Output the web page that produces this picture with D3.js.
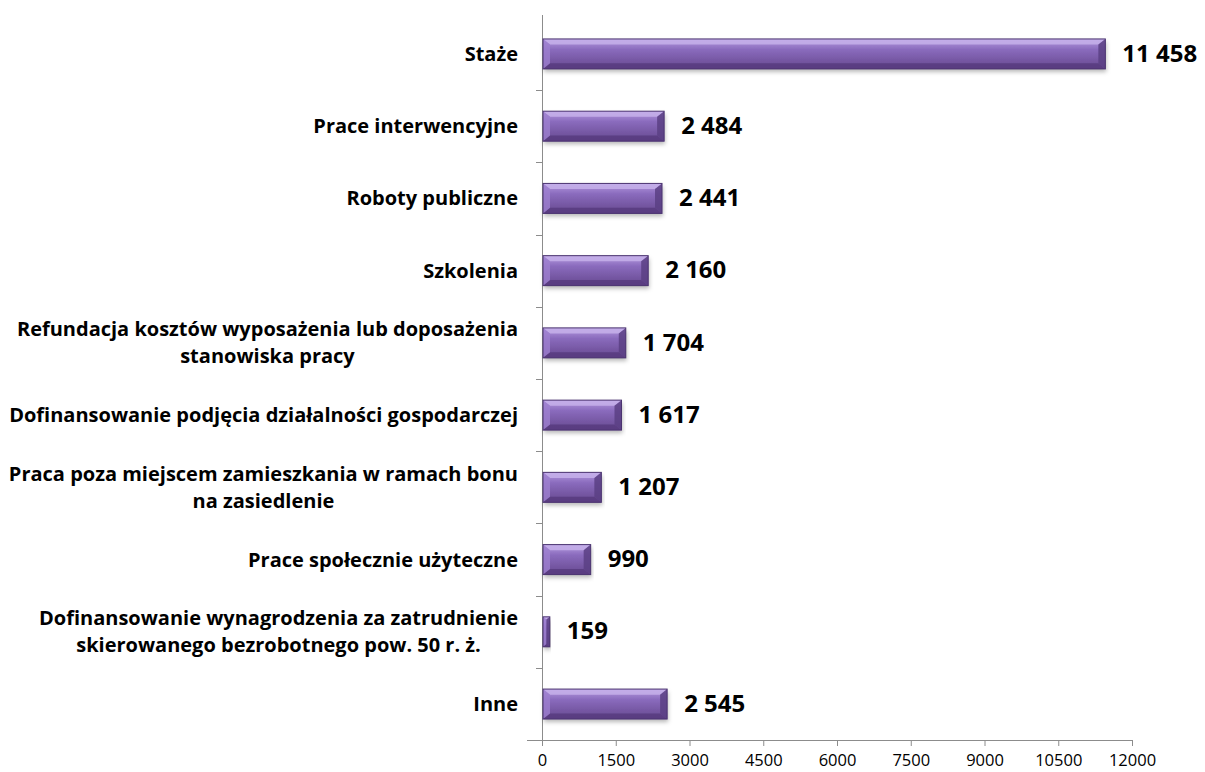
<!DOCTYPE html>
<html><head><meta charset="utf-8">
<script src="https://cdn.jsdelivr.net/npm/d3@7"></script>
<style>
html,body{margin:0;padding:0;background:#fff;}
svg{display:block;}
</style></head>
<body>
<svg id="chart" width="1205" height="772"></svg>
<script>
const categories = [
  ["Staże"],
  ["Prace interwencyjne"],
  ["Roboty publiczne"],
  ["Szkolenia"],
  ["Refundacja kosztów wyposażenia lub doposażenia", "stanowiska pracy"],
  ["Dofinansowanie podjęcia działalności gospodarczej"],
  ["Praca poza miejscem zamieszkania w ramach bonu", "na zasiedlenie"],
  ["Prace społecznie użyteczne"],
  ["Dofinansowanie wynagrodzenia za zatrudnienie", "skierowanego bezrobotnego pow. 50 r. ż."],
  ["Inne"]
];
const values = [11458, 2484, 2441, 2160, 1704, 1617, 1207, 990, 159, 2545];
const valueLabels = ["11 458", "2 484", "2 441", "2 160", "1 704", "1 617", "1 207", "990", "159", "2 545"];
const tickValues = [0, 1500, 3000, 4500, 6000, 7500, 9000, 10500, 12000];

(function () {
const svg = d3.select("#chart");
const pLeft = 542, pRight = 1132, pTop = 18, pBottom = 740;
const FONT = "'Open Sans', Lato, sans-serif";

const x = d3.scaleLinear().domain([0, 12000]).range([pLeft, pRight]);
const y = d3.scaleBand().domain(d3.range(categories.length)).range([pTop, pBottom]).paddingInner(0.585).paddingOuter(0.29);

const defs = svg.append("defs");
const g = defs.append("linearGradient").attr("id", "face").attr("x1", 0).attr("y1", 0).attr("x2", 0).attr("y2", 1);
g.append("stop").attr("offset", "0%").attr("stop-color", "#b59ae0");
g.append("stop").attr("offset", "35%").attr("stop-color", "#8a6bbd");
g.append("stop").attr("offset", "100%").attr("stop-color", "#66488f");
const f = defs.append("filter").attr("id", "sh").attr("x", "-5%").attr("y", "-30%").attr("width", "110%").attr("height", "180%");
f.append("feDropShadow").attr("dx", 1).attr("dy", 3).attr("stdDeviation", 2).attr("flood-color", "#000").attr("flood-opacity", 0.28);

// axes
const xAxis = d3.axisBottom(x).tickValues(tickValues).tickSize(6).tickSizeOuter(0).tickFormat(d3.format("d"));
const gx = svg.append("g").attr("transform", `translate(0,${pBottom})`).call(xAxis);
gx.select(".domain").attr("stroke", "#8c8c8c").attr("d", `M${pLeft - 15},0.5H${pRight}`);
gx.selectAll(".tick line").attr("stroke", "#8c8c8c");
gx.selectAll(".tick text").attr("font-family", FONT).attr("font-size", 16.5).attr("fill", "#000")
  .attr("y", 26).attr("dy", 0);

const ax = svg.append("g");
ax.append("line").attr("x1", pLeft + 0.5).attr("x2", pLeft + 0.5).attr("y1", pTop - 3).attr("y2", pBottom + 6).attr("stroke", "#8c8c8c");
ax.selectAll("line.t").data(d3.range(1, categories.length)).join("line")
  .attr("x1", pLeft - 6).attr("x2", pLeft)
  .attr("y1", i => Math.round(y(i) - y.step() * y.paddingInner() / 2) + 0.5)
  .attr("y2", i => Math.round(y(i) - y.step() * y.paddingInner() / 2) + 0.5)
  .attr("stroke", "#8c8c8c");

// bars
const bars = svg.append("g").selectAll("g").data(values).join("g");
bars.each(function (v, i) {
  const gg = d3.select(this);
  const x0 = x(0) + 1, x1 = x(v), y0 = y(i), h = y.bandwidth(), y1 = y0 + h;
  const b = Math.min(7, (x1 - x0) / 2);
  gg.append("rect").attr("x", x0).attr("y", y0).attr("width", x1 - x0).attr("height", h)
    .attr("fill", "url(#face)").attr("filter", "url(#sh)");
  gg.append("polygon").attr("points", [[x0, y0], [x1, y0], [x1 - b, y0 + b * 0.8], [x0 + b, y0 + b * 0.8]].join(" "))
    .attr("fill", "#c6b0ea").attr("opacity", 0.85);
  gg.append("polygon").attr("points", [[x0, y1], [x1, y1], [x1 - b, y1 - b * 0.8], [x0 + b, y1 - b * 0.8]].join(" "))
    .attr("fill", "#56397d").attr("opacity", 0.8);
  gg.append("polygon").attr("points", [[x0, y0], [x0 + b, y0 + b * 0.8], [x0 + b, y1 - b * 0.8], [x0, y1]].join(" "))
    .attr("fill", "#9d80cf").attr("opacity", 0.8);
  gg.append("polygon").attr("points", [[x1, y0], [x1 - b, y0 + b * 0.8], [x1 - b, y1 - b * 0.8], [x1, y1]].join(" "))
    .attr("fill", "#5b3f84").attr("opacity", 0.85);
  gg.append("rect").attr("x", x0).attr("y", y0).attr("width", x1 - x0).attr("height", h)
    .attr("fill", "none").attr("stroke", "#4b3470").attr("stroke-width", 1);
});

// value labels
svg.append("g").selectAll("text").data(values).join("text")
  .attr("x", v => x(v) + 17)
  .attr("y", (v, i) => y(i) + y.bandwidth() / 2 - 1)
  .attr("dy", "0.36em")
  .attr("font-family", FONT).attr("font-weight", "bold").attr("font-size", 24)
  .attr("fill", "#000")
  .text((v, i) => valueLabels[i]);

// category labels
const labelRight = 518;
const lg = svg.append("g").attr("font-family", FONT).attr("font-weight", "bold").attr("font-size", 20).attr("fill", "#000");
categories.forEach((lines, i) => {
  const cy = y(i) + y.bandwidth() / 2;
  const lh = 27;
  const t = lg.append("text").attr("text-anchor", "middle");
  lines.forEach((s, k) => {
    t.append("tspan").attr("x", 0).attr("y", cy + (k - (lines.length - 1) / 2) * lh).attr("dy", "0.35em").text(s);
  });
  const w = t.node().getBBox().width;
  t.attr("transform", `translate(${labelRight - w / 2},0)`);
});
})();
</script>
</body></html>
